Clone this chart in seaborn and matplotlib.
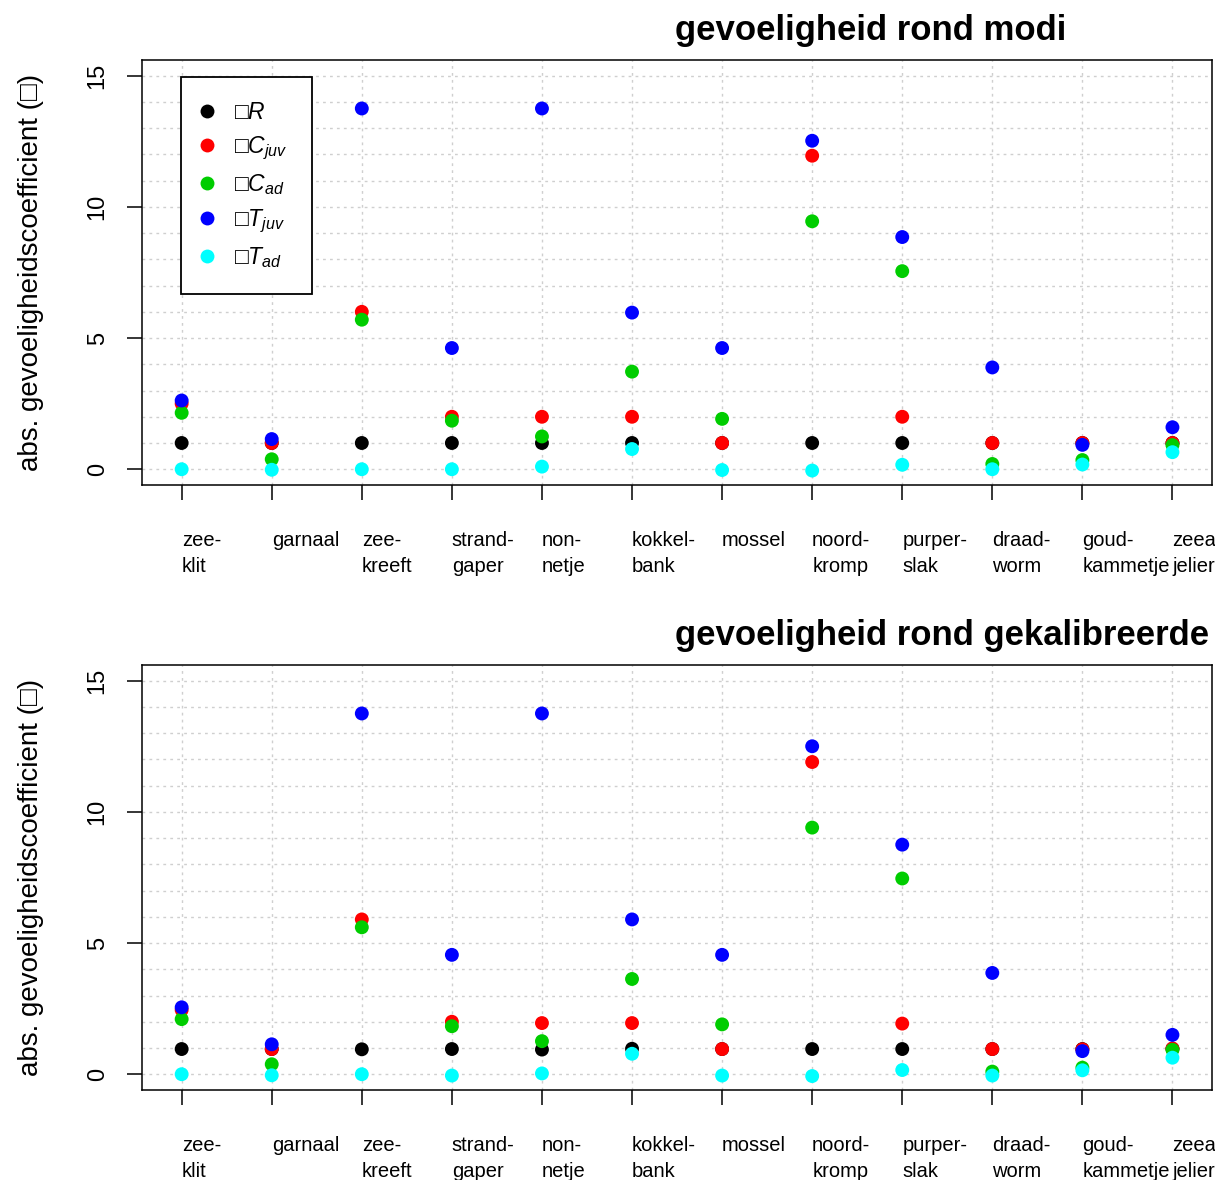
import numpy as np
import pandas as pd
import matplotlib
matplotlib.use("Agg")
import matplotlib.pyplot as plt
import seaborn as sns

# species along the x axis (two-line labels)
species = ["zee-\nklit", "garnaal", "zee-\nkreeft", "strand-\ngaper", "non-\nnetje",
           "kokkel-\nbank", "mossel", "noord-\nkromp", "purper-\nslak", "draad-\nworm",
           "goud-\nkammetje", "zeean-\njelier"]

# parameter labels and colours
params = ["□$R$", "□$C_{juv}$", "□$C_{ad}$", "□$T_{juv}$", "□$T_{ad}$"]
colors = ["#000000", "#FF0000", "#00CD00", "#0000FF", "#00FFFF"]

# sensitivity around the modes
modi_R    = [1.0, 1.0, 1.0, 1.0, 1.0, 1.0, 1.0, 1.0, 1.0, 1.0, 1.0, 1.0]
modi_Cjuv = [2.5, 1.0, 6.0, 2.0, 2.0, 2.0, 1.0, 11.95, 2.0, 1.0, 1.0, 1.0]
modi_Cad  = [2.15, 0.38, 5.7, 1.85, 1.25, 3.72, 1.92, 9.45, 7.55, 0.2, 0.35, 0.92]
modi_Tjuv = [2.62, 1.15, 13.75, 4.62, 13.75, 5.97, 4.62, 12.52, 8.85, 3.88, 0.93, 1.6]
modi_Tad  = [0.0, -0.02, 0.0, 0.0, 0.1, 0.77, -0.03, -0.05, 0.17, 0.0, 0.18, 0.65]

# sensitivity around the calibrated values
kal_R    = [0.96, 0.96, 0.95, 0.96, 0.94, 0.97, 0.96, 0.96, 0.96, 0.96, 0.96, 0.97]
kal_Cjuv = [2.45, 0.96, 5.9, 2.0, 1.95, 1.95, 0.96, 11.9, 1.93, 0.96, 0.95, 0.98]
kal_Cad  = [2.1, 0.38, 5.6, 1.83, 1.26, 3.63, 1.9, 9.4, 7.46, 0.1, 0.25, 0.93]
kal_Tjuv = [2.55, 1.14, 13.75, 4.55, 13.75, 5.9, 4.55, 12.5, 8.75, 3.86, 0.88, 1.5]
kal_Tad  = [0.0, -0.04, 0.0, -0.05, 0.03, 0.78, -0.05, -0.07, 0.16, -0.05, 0.15, 0.63]

titles = ["gevoeligheid rond modi", "gevoeligheid rond gekalibreerde waarden"]
ylabel = "abs. gevoeligheidscoefficient (□)"


def long_table(series):
    rows = []
    for name, vals in zip(params, series):
        for i, v in enumerate(vals):
            rows.append({"pos": i + 1, "waarde": v, "parameter": name})
    return pd.DataFrame(rows)


plt.rcParams["font.family"] = ["Liberation Sans", "DejaVu Sans"]
plt.rcParams["mathtext.fontset"] = "custom"
plt.rcParams["mathtext.it"] = "Liberation Sans:italic"
plt.rcParams["mathtext.rm"] = "Liberation Sans"

fig = plt.figure(figsize=(12.15, 11.8), dpi=100)
ax_top = fig.add_axes([0.1169, 0.589, 0.8807, 0.3602])
ax_bot = fig.add_axes([0.1169, 0.0763, 0.8807, 0.3602])

datasets = [
    [modi_R, modi_Cjuv, modi_Cad, modi_Tjuv, modi_Tad],
    [kal_R, kal_Cjuv, kal_Cad, kal_Tjuv, kal_Tad],
]

for k, (ax, data) in enumerate(zip([ax_top, ax_bot], datasets)):
    df = long_table(data)
    ax.set_axisbelow(True)
    sns.scatterplot(data=df, x="pos", y="waarde", hue="parameter",
                    palette=dict(zip(params, colors)), hue_order=params,
                    s=100, linewidth=0, ax=ax, legend=(k == 0), zorder=3)

    ax.set_xlim(0.56, 12.44)
    ax.set_ylim(-0.6, 15.6)
    ax.set_xticks(np.arange(1, 13))
    ax.set_xticklabels([])
    ax.set_yticks([0, 5, 10, 15])
    ax.set_yticks(np.arange(0, 16), minor=True)
    ax.set_yticklabels(["0", "5", "10", "15"], rotation=90, va="center", fontsize=17)
    ax.tick_params(axis="both", which="major", direction="out", length=11,
                   width=1.1, color="black", pad=13)
    ax.tick_params(axis="y", which="minor", length=0)
    ax.grid(True, which="both", linestyle=(0, (2, 3)), color="#CFCFCF", linewidth=1.0)
    for sp in ax.spines.values():
        sp.set_linewidth(1.1)
        sp.set_color("black")
    ax.set_xlabel("")
    ax.set_ylabel(ylabel, fontsize=20, labelpad=31)

    for i, lab in enumerate(species):
        ax.annotate(lab, xy=(i + 1, 0), xycoords=("data", "axes fraction"),
                    xytext=(0, -46), textcoords="offset pixels",
                    ha="left", va="top", fontsize=14.5, linespacing=1.5,
                    annotation_clip=False)

    ax.annotate(titles[k], xy=(0.5, 1.0), xycoords="axes fraction",
                xytext=(-2, 20), textcoords="offset pixels",
                ha="left", va="baseline", fontsize=25, fontweight="bold",
                annotation_clip=False)

    if k == 0:
        handles, labels = ax.get_legend_handles_labels()
        leg = ax.legend(handles, labels, loc="upper left",
                        bbox_to_anchor=(0.036, 0.96), borderaxespad=0,
                        fontsize=16.5, frameon=True, fancybox=False,
                        edgecolor="black", framealpha=1, borderpad=1.05,
                        labelspacing=0.45, handlelength=0.2,
                        handletextpad=1.1, markerscale=1.0)
        leg.get_frame().set_linewidth(1.3)

fig.savefig("out.png", dpi=100)
